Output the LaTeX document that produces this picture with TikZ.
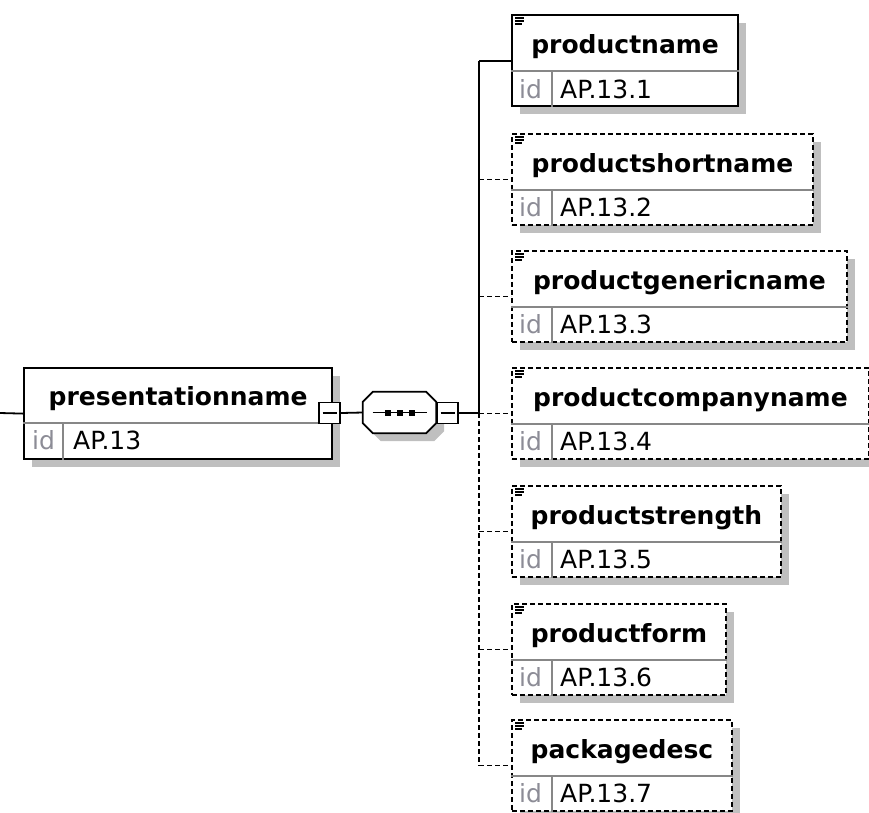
\documentclass[tikz,border=0pt]{standalone}
\usepackage{fontspec}
\setmainfont{DejaVu Sans}
\usetikzlibrary{shadows, positioning}

\definecolor{idgray}{RGB}{140,140,150}
\definecolor{rulegray}{RGB}{135,135,135}

\tikzset{
  boxshadow/.style={drop shadow={shadow xshift=8pt, shadow yshift=-8pt, fill=black!25, opacity=1}},
  elbox/.style={rectangle, draw=black, fill=white, line width=2.2pt, inner sep=0pt,
    minimum height=91pt, boxshadow},
  solidbox/.style={elbox},
  dashbox/.style={elbox, line width=1.9pt, dash pattern=on 5pt off 3pt},
  namelbl/.style={font=\fontsize{25}{30}\selectfont\bfseries, inner sep=0pt},
  idkey/.style={font=\fontsize{25}{30}\selectfont, text=idgray, inner sep=0pt},
  idval/.style={font=\fontsize{25}{30}\selectfont, inner sep=0pt},
  rowline/.style={draw=rulegray, line width=1.6pt},
  minusbox/.style={rectangle, draw=black, fill=white, line width=1.8pt,
    minimum size=21pt, inner sep=0pt},
  seqbox/.style={rectangle, minimum width=73pt, minimum height=41pt, inner sep=0pt},
  link/.style={line width=1.8pt},
  dlink/.style={line width=1.8pt, dash pattern=on 5pt off 3pt},
}

\begin{document}
\begin{tikzpicture}[x=1pt, y=-1pt]
\useasboundingbox (0,0) rectangle (869,812);

% root element
\node[solidbox, minimum width=308pt, anchor=north west] (presname) at (23,367) {};
\node[namelbl, anchor=base] (presname-n) at ([yshift=-38pt]presname.north) {presentationname};
\draw[rowline] ([yshift=-56pt]presname.north west) -- ([yshift=-56pt]presname.north east);
\draw[rowline] ([xshift=40pt,yshift=-56pt]presname.north west) -- ([xshift=40pt]presname.south west);
\node[idkey, anchor=base west] (presname-k) at ([xshift=9pt,yshift=11pt]presname.south west) {id};
\node[idval, anchor=base west] (presname-v) at ([xshift=50pt,yshift=11pt]presname.south west) {AP.13};

% sequence compositor
\node[seqbox] (seq) at (399.5,412.5) {};
\draw[link, fill=white, boxshadow]
  ([xshift=10pt]seq.north west) -- ([xshift=-10pt]seq.north east)
  -- ([yshift=-10pt]seq.north east) -- ([yshift=10pt]seq.south east)
  -- ([xshift=-10pt]seq.south east) -- ([xshift=10pt]seq.south west)
  -- ([yshift=10pt]seq.south west) -- ([yshift=-10pt]seq.north west) -- cycle;
\draw[link] ([xshift=-27pt]seq.center) -- ([xshift=27pt]seq.center);
\foreach \dx in {-12,0,12}
  \fill ([xshift=\dx pt-3pt,yshift=-3pt]seq.center) rectangle +(6,-6);
\node[minusbox] (rminus) at (329.5,413) {};
\draw[link] ([xshift=-7pt]rminus.center) -- ([xshift=7pt]rminus.center);
\node[minusbox] (sminus) at (447.5,413) {};
\draw[link] ([xshift=-7pt]sminus.center) -- ([xshift=7pt]sminus.center);

\coordinate (in) at (0,413);
\coordinate (trunk) at (479,413);
\draw[link] (in) -- (presname.west);
\draw[link] (rminus.east) -- (seq.west);
\draw[link] (sminus.east) -- (trunk);

% child elements
\foreach \nd/\lbl/\ty/\bw/\idn/\bst in {
    pname/productname/14/226/1/solidbox,
    pshort/productshortname/133/301/2/dashbox,
    pgeneric/productgenericname/250/335/3/dashbox,
    pcompany/productcompanyname/367/357/4/dashbox,
    pstrength/productstrength/485/269/5/dashbox,
    pform/productform/603/214/6/dashbox,
    pkgdesc/packagedesc/719/220/7/dashbox} {
  \node[\bst, minimum width=\bw pt, anchor=north west] (\nd) at (511,\ty) {};
  \node[namelbl, anchor=base] (\nd-n) at ([yshift=-39pt]\nd.north) {\lbl};
  \draw[rowline] ([yshift=-57pt]\nd.north west) -- ([yshift=-57pt]\nd.north east);
  \draw[rowline] ([xshift=41pt,yshift=-57pt]\nd.north west) -- ([xshift=41pt]\nd.south west);
  \node[idkey, anchor=base west] (\nd-k) at ([xshift=8pt,yshift=9pt]\nd.south west) {id};
  \node[idval, anchor=base west] (\nd-v) at ([xshift=49pt,yshift=9pt]\nd.south west) {AP.13.\idn};
  % list icon
  \foreach \k/\len in {4/9,7/9,10/7}
    \draw[line width=1.4pt] ([xshift=4pt,yshift=-\k pt]\nd.north west) -- +(\len,0);
}

% connectors
\draw[link] (pname.west -| trunk) -- (trunk);
\draw[link] (pname.west -| trunk) -- (pname.west);
\draw[dlink] (trunk) -- (pkgdesc.west -| trunk);
\foreach \nd in {pshort,pgeneric,pcompany,pstrength,pform,pkgdesc}
  \draw[dlink] (\nd.west -| trunk) -- (\nd.west);
\end{tikzpicture}
\end{document}
